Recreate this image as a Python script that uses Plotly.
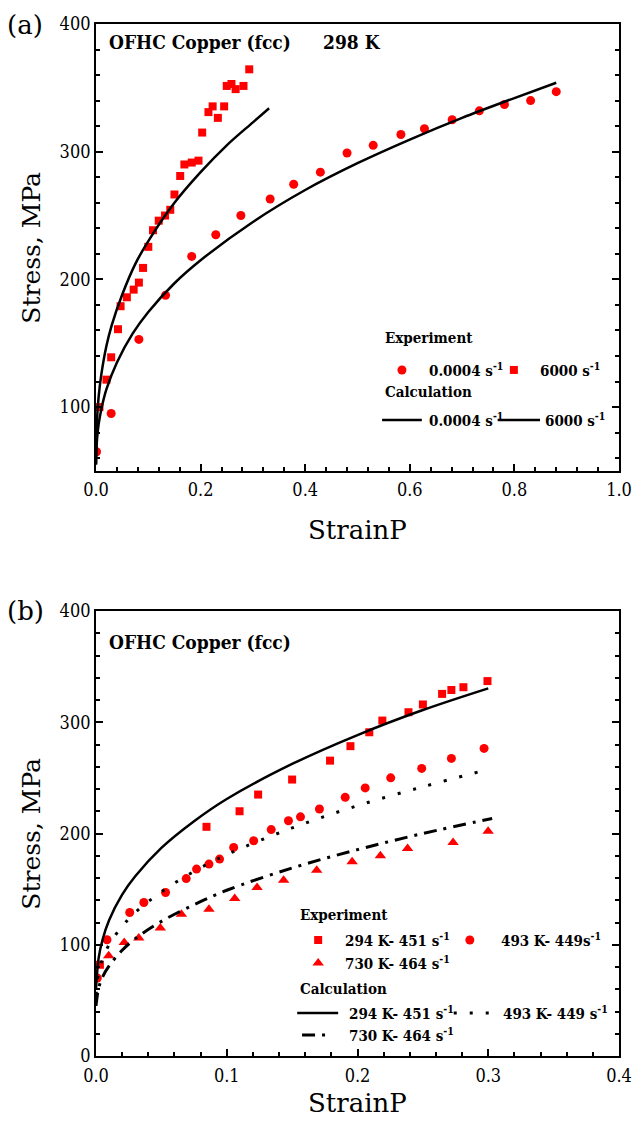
import plotly.graph_objects as go

# ---------------- Panel (a): 298 K ----------------
a_exp_slow_strain = [0.001, 0.029, 0.082, 0.133, 0.183, 0.229, 0.277, 0.333, 0.378, 0.429,
                     0.480, 0.530, 0.583, 0.628, 0.681, 0.733, 0.781, 0.831, 0.880]
a_exp_slow_stress = [65, 95, 153, 187.5, 218, 235, 250, 263, 274.5, 284,
                     299, 305, 313.5, 318, 325, 332, 337, 340, 347]

a_exp_fast_strain = [0.0066, 0.020, 0.029, 0.042, 0.047, 0.059, 0.072, 0.082, 0.090, 0.100,
                     0.109, 0.120, 0.132, 0.142, 0.150, 0.161, 0.169, 0.183, 0.196, 0.203,
                     0.215, 0.223, 0.233, 0.245, 0.250, 0.259, 0.267, 0.282, 0.293]
a_exp_fast_stress = [100, 121.5, 139, 161, 179, 186, 192, 197.5, 209, 225.5,
                     238.5, 246, 250, 254.5, 266.5, 281, 290, 291.5, 293, 315,
                     331, 335.5, 326.5, 335.5, 351.5, 353, 349, 351.5, 364.5]

a_calc_slow_strain = [0.0, 0.002, 0.005, 0.01, 0.02, 0.04, 0.07, 0.1, 0.15, 0.2,
                      0.3, 0.4, 0.5, 0.6, 0.7, 0.8, 0.88]
a_calc_slow_stress = [55, 75, 86.5, 98, 114, 135, 157.5, 174.5, 197, 215,
                      245, 270, 291, 309.5, 326.5, 342, 354]

a_calc_fast_strain = [0.0, 0.0005, 0.002, 0.005, 0.01, 0.02, 0.03, 0.05, 0.075, 0.1,
                      0.15, 0.2, 0.25, 0.3, 0.331]
a_calc_fast_stress = [55, 74, 91, 108, 125, 148, 164, 188, 212, 230,
                      260, 284, 305, 323, 334]

# ---------------- Panel (b): temperature series ----------------
b_exp_294_strain = [0.003, 0.0845, 0.1098, 0.124, 0.150, 0.179, 0.1946, 0.209, 0.219, 0.239,
                    0.250, 0.2647, 0.2718, 0.281, 0.2994]
b_exp_294_stress = [82, 206, 220, 235, 248.5, 265.5, 278.5, 291, 301.5, 309,
                    316, 325.5, 329, 331.5, 337]

b_exp_493_strain = [0.001, 0.0084, 0.0258, 0.0366, 0.0532, 0.069, 0.0769, 0.0864, 0.0945, 0.1053,
                    0.1206, 0.134, 0.1472, 0.1564, 0.1709, 0.1906, 0.2059, 0.2254, 0.2491, 0.2718,
                    0.2968]
b_exp_493_stress = [70, 104.5, 129, 138, 147, 159.5, 168, 172.5, 177, 187.5,
                    193.5, 203.5, 211.5, 215, 222, 232.5, 241, 250, 258.5, 267.5,
                    276.5]

b_exp_730_strain = [0.0097, 0.0216, 0.0327, 0.0492, 0.0653, 0.0864, 0.1061, 0.1232, 0.1435, 0.1688,
                    0.1959, 0.2175, 0.2383, 0.2731, 0.2999]
b_exp_730_stress = [90, 102, 106, 115, 127.5, 132, 141.5, 151.5, 158, 167,
                    174.5, 180, 186.5, 192, 202]

b_calc_294_strain = [0.0, 0.002, 0.005, 0.01, 0.02, 0.03, 0.05, 0.075, 0.1, 0.15, 0.2, 0.25, 0.3]
b_calc_294_stress = [60, 88, 104.5, 122, 145, 161.5, 187, 211, 231, 262.5, 288.5, 311, 330.5]

b_calc_493_strain = [0.0, 0.002, 0.005, 0.01, 0.02, 0.03, 0.05, 0.075, 0.1, 0.15, 0.2, 0.25, 0.293]
b_calc_493_stress = [55, 75, 87, 100, 116.5, 129, 147.5, 166, 181, 205, 225, 242, 255.5]

b_calc_730_strain = [0.0, 0.002, 0.005, 0.01, 0.02, 0.03, 0.05, 0.075, 0.1, 0.15, 0.2, 0.25, 0.303]
b_calc_730_stress = [45, 61, 71, 81, 95, 105.5, 121, 136, 149, 169, 185.5, 200, 213.5]

# ---------------- Text ----------------
a_title = "OFHC Copper (fcc)"
a_temp = "298 K"
b_title = "OFHC Copper (fcc)"
a_legend_labels = ["0.0004 s<sup>-1</sup>", "6000 s<sup>-1</sup>"]
b_exp_labels = ["294 K- 451 s<sup>-1</sup>", "493 K- 449s<sup>-1</sup>", "730 K- 464 s<sup>-1</sup>"]
b_calc_labels = ["294 K- 451 s<sup>-1</sup>", "493 K- 449 s<sup>-1</sup>", "730 K- 464 s<sup>-1</sup>"]

RED = "#ff0000"
F_COND = "DejaVu Serif Condensed, DejaVu Serif"
F_SERIF = "DejaVu Serif"

fig = go.Figure()

# panel (a) data
fig.add_trace(go.Scatter(x=a_exp_slow_strain, y=a_exp_slow_stress, mode="markers",
                         marker=dict(symbol="circle", size=9, color=RED), xaxis="x", yaxis="y"))
fig.add_trace(go.Scatter(x=a_exp_fast_strain, y=a_exp_fast_stress, mode="markers",
                         marker=dict(symbol="square", size=8, color=RED), xaxis="x", yaxis="y"))
fig.add_trace(go.Scatter(x=a_calc_slow_strain, y=a_calc_slow_stress, mode="lines", line_shape="spline",
                         line=dict(color="black", width=2.5), xaxis="x", yaxis="y"))
fig.add_trace(go.Scatter(x=a_calc_fast_strain, y=a_calc_fast_stress, mode="lines", line_shape="spline",
                         line=dict(color="black", width=2.5), xaxis="x", yaxis="y"))

# panel (b) data
fig.add_trace(go.Scatter(x=b_exp_294_strain, y=b_exp_294_stress, mode="markers",
                         marker=dict(symbol="square", size=8, color=RED), xaxis="x2", yaxis="y2"))
fig.add_trace(go.Scatter(x=b_exp_493_strain, y=b_exp_493_stress, mode="markers",
                         marker=dict(symbol="circle", size=9, color=RED), xaxis="x2", yaxis="y2"))
fig.add_trace(go.Scatter(x=b_exp_730_strain, y=b_exp_730_stress, mode="markers",
                         marker=dict(symbol="triangle-up", size=10, color=RED), xaxis="x2", yaxis="y2"))
fig.add_trace(go.Scatter(x=b_calc_294_strain, y=b_calc_294_stress, mode="lines", line_shape="spline",
                         line=dict(color="black", width=2.5), xaxis="x2", yaxis="y2"))
fig.add_trace(go.Scatter(x=b_calc_493_strain, y=b_calc_493_stress, mode="lines", line_shape="spline",
                         line=dict(color="black", width=3, dash="3px,13px"), xaxis="x2", yaxis="y2"))
fig.add_trace(go.Scatter(x=b_calc_730_strain, y=b_calc_730_stress, mode="lines", line_shape="spline",
                         line=dict(color="black", width=3, dash="13px,7px,3px,7px"), xaxis="x2", yaxis="y2"))

# legend keys on hidden overlay axes (fractions of each plot area)
fig.add_trace(go.Scatter(x=[0.585], y=[0.226], mode="markers", marker=dict(symbol="circle", size=9, color=RED),
                         xaxis="x3", yaxis="y3"))
fig.add_trace(go.Scatter(x=[0.799], y=[0.226], mode="markers", marker=dict(symbol="square", size=8, color=RED),
                         xaxis="x3", yaxis="y3"))
fig.add_trace(go.Scatter(x=[0.547, 0.623], y=[0.114, 0.114], mode="lines", line=dict(color="black", width=2.5),
                         xaxis="x3", yaxis="y3"))
fig.add_trace(go.Scatter(x=[0.768, 0.849], y=[0.114, 0.114], mode="lines", line=dict(color="black", width=2.5),
                         xaxis="x3", yaxis="y3"))

fig.add_trace(go.Scatter(x=[0.4248], y=[0.2607], mode="markers", marker=dict(symbol="square", size=8, color=RED),
                         xaxis="x4", yaxis="y4"))
fig.add_trace(go.Scatter(x=[0.7148], y=[0.2607], mode="markers", marker=dict(symbol="circle", size=9, color=RED),
                         xaxis="x4", yaxis="y4"))
fig.add_trace(go.Scatter(x=[0.4248], y=[0.209], mode="markers", marker=dict(symbol="triangle-up", size=10, color=RED),
                         xaxis="x4", yaxis="y4"))
fig.add_trace(go.Scatter(x=[0.3847, 0.463], y=[0.0966, 0.0966], mode="lines", line=dict(color="black", width=2.5),
                         xaxis="x4", yaxis="y4"))
fig.add_trace(go.Scatter(x=[0.684, 0.756], y=[0.0966, 0.0966], mode="lines",
                         line=dict(color="black", width=3, dash="3px,13px"), xaxis="x4", yaxis="y4"))
fig.add_trace(go.Scatter(x=[0.394, 0.44], y=[0.047, 0.047], mode="lines",
                         line=dict(color="black", width=3, dash="13px,7px,3px,7px"), xaxis="x4", yaxis="y4"))

axis_common = dict(showline=True, linecolor="black", linewidth=1.8, ticks="inside", ticklen=7, tickwidth=1.5,
                   tickcolor="black", showgrid=False, zeroline=False, automargin=False,
                   tickfont=dict(family=F_COND, size=18, color="black"))

fig.update_layout(
    width=632, height=1122, showlegend=False,
    paper_bgcolor="white", plot_bgcolor="white",
    font=dict(family=F_COND, color="black"),
    margin=dict(l=96, r=13, t=24, b=66, autoexpand=False),
    xaxis=dict(domain=[0, 1], anchor="y", range=[0, 1.0], dtick=0.2, tick0=0, tickformat=".1f", mirror=True,
               ticklabelstandoff=2,
               minor=dict(dtick=0.04, ticks="inside", ticklen=4, tickwidth=1.5, tickcolor="black"), **axis_common),
    yaxis=dict(domain=[0.5669, 1], anchor="x", range=[50, 400], dtick=100, tick0=0, mirror="allticks",
               minor=dict(dtick=20, ticks="inside", ticklen=4, tickwidth=1.5, tickcolor="black"), **axis_common),
    xaxis2=dict(domain=[0, 1], anchor="y2", range=[0, 0.4], dtick=0.1, tick0=0, tickformat=".1f", mirror=True,
                ticklabelstandoff=2,
                minor=dict(dtick=0.02, ticks="inside", ticklen=4, tickwidth=1.5, tickcolor="black"), **axis_common),
    yaxis2=dict(domain=[0, 0.4312], anchor="x2", range=[0, 400], dtick=100, tick0=0, mirror="allticks",
                minor=dict(dtick=20, ticks="inside", ticklen=4, tickwidth=1.5, tickcolor="black"), **axis_common),
    xaxis3=dict(overlaying="x", anchor="y3", range=[0, 1], visible=False),
    yaxis3=dict(overlaying="y", anchor="x3", range=[0, 1], visible=False),
    xaxis4=dict(overlaying="x2", anchor="y4", range=[0, 1], visible=False),
    yaxis4=dict(overlaying="y2", anchor="x4", range=[0, 1], visible=False),
)

ann = []
def txt(text, x, y, xref="paper", yref="paper", size=15, bold=True, xanchor="left", angle=0, fam=F_COND):
    t = "<b>" + text + "</b>" if bold else text
    ann.append(dict(text=t, x=x, y=y, xref=xref, yref=yref, xanchor=xanchor, yanchor="middle",
                    showarrow=False, textangle=angle, font=dict(family=fam, size=size, color="black")))

# panel labels and axis titles
txt("(a)", -0.135, 0.999, size=26, bold=False, xanchor="center", fam=F_SERIF)
txt("(b)", -0.135, 0.4312, size=26, bold=False, xanchor="center", fam=F_SERIF)
txt("Stress, MPa", -0.124, 0.7834, size=25, bold=False, xanchor="center", angle=-90, fam=F_SERIF)
txt("Stress, MPa", -0.124, 0.2156, size=25, bold=False, xanchor="center", angle=-90, fam=F_SERIF)
txt("StrainP", 0.5, 0.5097, size=26, bold=False, xanchor="center", fam=F_SERIF)
txt("StrainP", 0.5, -0.0455, size=26, bold=False, xanchor="center", fam=F_SERIF)

# in-plot titles
txt(a_title, 0.021, 0.959, xref="x3 domain", yref="y3 domain", size=19)
txt(a_temp, 0.43, 0.959, xref="x3 domain", yref="y3 domain", size=19)
txt(b_title, 0.021, 0.931, xref="x4 domain", yref="y4 domain", size=19)

# legend (a)
txt("Experiment", 0.549, 0.2975, xref="x3", yref="y3")
txt(a_legend_labels[0], 0.633, 0.226, xref="x3", yref="y3")
txt(a_legend_labels[1], 0.845, 0.226, xref="x3", yref="y3")
txt("Calculation", 0.549, 0.177, xref="x3", yref="y3")
txt(a_legend_labels[0], 0.633, 0.114, xref="x3", yref="y3")
txt(a_legend_labels[1], 0.854, 0.114, xref="x3", yref="y3")

# legend (b)
txt("Experiment", 0.3866, 0.3169, xref="x4", yref="y4")
txt(b_exp_labels[0], 0.4725, 0.2607, xref="x4", yref="y4")
txt(b_exp_labels[1], 0.7703, 0.2607, xref="x4", yref="y4")
txt(b_exp_labels[2], 0.4725, 0.209, xref="x4", yref="y4")
txt("Calculation", 0.3866, 0.1506, xref="x4", yref="y4")
txt(b_calc_labels[0], 0.4801, 0.0966, xref="x4", yref="y4")
txt(b_calc_labels[1], 0.774, 0.0966, xref="x4", yref="y4")
txt(b_calc_labels[2], 0.4801, 0.047, xref="x4", yref="y4")

fig.update_layout(annotations=ann)
fig.write_html("out.html", config={"displayModeBar": False},
               post_script="document.body.style.margin='0';document.body.style.padding='0';")
